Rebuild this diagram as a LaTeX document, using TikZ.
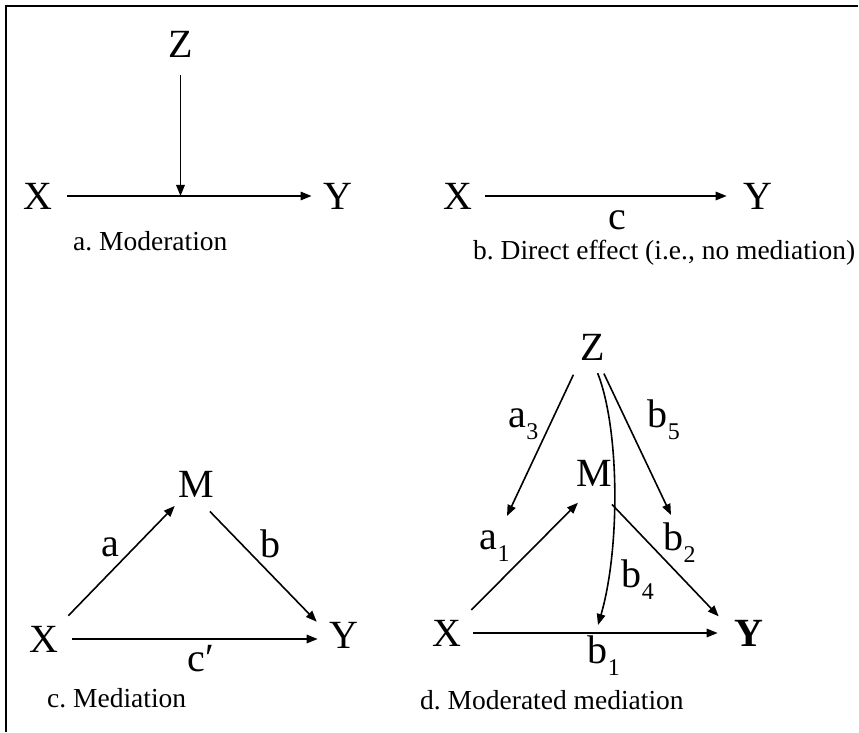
\documentclass[tikz,border=0pt]{standalone}
\usepackage{fontspec}
\setmainfont{Liberation Serif}
\usetikzlibrary{arrows.meta,calc}
\frenchspacing
\newcommand\subidx[1]{\raisebox{-0.3em}{\fontsize{24}{24}\selectfont #1}}
\tikzset{
  var/.style={inner sep=0pt,outer sep=0pt,font=\fontsize{40}{40}\selectfont},
  coef/.style={inner sep=0pt,font=\fontsize{40}{40}\selectfont},
  panelcap/.style={inner sep=0pt,anchor=base west,font=\fontsize{27.5}{27.5}\selectfont},
  effect/.style={-{Triangle[length=11pt,width=8.5pt]},line width=1.6pt}
}

\begin{document}
\begin{tikzpicture}[x=1pt,y=1pt]
\useasboundingbox (0,0) rectangle (859,732);
\draw[line width=2pt] (6,0) -- (6,726) -- (858,726);

% a. moderation
\node[var] (Za) at (180.5,687.5) {Z};
\node[var] (Xa) at (38,536) {X};
\node[var] (Ya) at (338,536) {Y};
\coordinate (ja) at (Za |- Xa);
\draw[effect,shorten <=15pt,shorten >=12pt] (Xa) -- (Ya);
\draw[effect,shorten <=17.7pt] (Za) -- (ja);
\node[panelcap] (capa) at (73,481) {a. Moderation};

% b. direct effect
\node[var] (Xb) at (458,536) {X};
\node[var] (Yb) at (758,536) {Y};
\draw[effect,shorten <=12.9pt,shorten >=16.9pt] (Xb) -- node[coef,pos=.533,anchor=base,yshift=-34pt] {c} (Yb);
\node[panelcap] (capb) at (473,472) {b. Direct effect (i.e., no mediation)};

% c. mediation
\node[var] (Mc) at (196,248) {M};
\node[var] (Xc) at (44,93) {X};
\node[var] (Yc) at (344,97) {Y};
\draw[effect,shorten <=14.2pt,shorten >=12.3pt] (Xc.north east) -- node[coef,pos=.5,xshift=-10.9pt,yshift=13.9pt] {a} (Mc);
\draw[effect,shorten <=20pt,shorten >=18.5pt] (Mc.south) -- node[coef,pos=.5,xshift=8pt,yshift=22.4pt] {b} (Yc.west);
\draw[effect,shorten <=13.9pt,shorten >=11.9pt] (Xc.east) -- node[coef,pos=.474,anchor=base west,yshift=-32pt] {c′} (Xc.east -| Yc.west);
\node[panelcap] (capc) at (47,25) {c. Mediation};

% d. moderated mediation
\node[var] (Zd) at (592.5,385) {Z};
\node[var] (Md) at (594.5,259) {M};
\node[var] (Xd) at (447,99) {X};
\node[var] (Yd) at (749,99) {\textbf{Y}};
\coordinate (ta) at (507,216);
\coordinate (tb) at (671,217);
\coordinate (tc) at (598,107);
\draw[effect,shorten <=11.9pt,shorten >=16.9pt] (Xd) -- node[coef,pos=.46,anchor=base west,yshift=-30pt] {b\subidx{1}} (Yd);
\draw[effect,shorten <=14pt,shorten >=23.5pt] (Xd.north east) -- node[coef,pos=.4,anchor=base west,xshift=-35.5pt,yshift=16.4pt] {a\subidx{1}} (Md.south);
\draw[effect,shorten <=25.3pt,shorten >=23pt] (Md.south) -- node[coef,pos=.5,anchor=base west,xshift=-1.7pt,yshift=9.4pt] {b\subidx{2}} (Yd.west);
\draw[effect,shorten <=16.2pt] (Zd.south west) -- node[coef,pos=.4,anchor=base west,xshift=-43.2pt,yshift=-4.7pt] {a\subidx{3}} (ta);
\draw[effect,shorten <=15pt] ([xshift=5pt]Zd.south) -- node[coef,pos=.4,anchor=base west,xshift=20.1pt,yshift=-5.1pt] {b\subidx{5}} (tb);
\draw[effect,shorten <=14pt] (Zd.south) .. controls (620,302) and (620,182) .. (tc)
  node[coef,pos=.75,anchor=base west,xshift=10.7pt,yshift=-25.2pt] {b\subidx{4}};
\node[panelcap] (capd) at (420,23) {d. Moderated mediation};
\end{tikzpicture}
\end{document}
